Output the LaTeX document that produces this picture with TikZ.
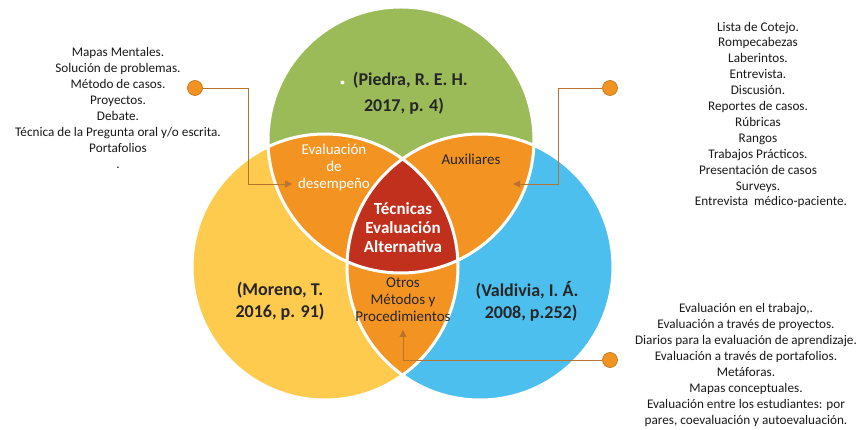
\documentclass[tikz,border=0pt]{standalone}
\usepackage{fontspec}
\setmainfont{Carlito}
\usetikzlibrary{arrows.meta}
\definecolor{verde}{HTML}{9BBB59}
\definecolor{amarillo}{HTML}{FECB4F}
\definecolor{azul}{HTML}{4CBFEE}
\definecolor{naranja}{HTML}{F39422}
\definecolor{rojo}{HTML}{C0301C}
\definecolor{texto}{HTML}{262626}
\definecolor{linea}{HTML}{B7732F}
\newcommand{\radio}{133pt}

\tikzset{
  lista/.style={align=center, text=black!90, font=\fontsize{13.2}{15.9}\selectfont},
  autor/.style={align=center, text=texto, font=\fontsize{18}{22}\selectfont\bfseries},
  zona/.style={align=center, font=\fontsize{15}{17}\selectfont},
  punto/.style={circle, fill=naranja, draw=naranja!75!black, line width=0.6pt, minimum size=15pt, inner sep=0pt},
  conector/.style={draw=linea, line width=0.8pt, -{Triangle[length=7pt,width=7pt]}},
}

\begin{document}
\begin{tikzpicture}[x=1pt,y=-1pt]
\useasboundingbox (0,0) rectangle (860,430);
\coordinate (cv) at (401,140);
\coordinate (ca) at (325,267);
\coordinate (cz) at (480,267);
\fill[amarillo] (ca) circle[radius=\radio];
\fill[azul] (cz) circle[radius=\radio];
\fill[verde] (cv) circle[radius=\radio];
\begin{scope}
  \clip (cv) circle[radius=\radio];
  \fill[naranja] (ca) circle[radius=\radio];
  \fill[naranja] (cz) circle[radius=\radio];
\end{scope}
\begin{scope}
  \clip (ca) circle[radius=\radio];
  \fill[naranja] (cz) circle[radius=\radio];
\end{scope}
\begin{scope}
  \clip (cv) circle[radius=\radio];
  \clip (ca) circle[radius=\radio];
  \fill[rojo] (cz) circle[radius=\radio];
\end{scope}
\draw[white, line width=3pt] (cv) circle[radius=\radio] (ca) circle[radius=\radio] (cz) circle[radius=\radio];

\node[autor, font=\fontsize{18}{26}\selectfont\bfseries] (piedra) at (404,93) {\textcolor{white}{\fontsize{9}{9}\selectfont•}\ \ (Piedra, R. E. H.\\2017, p. 4)};
\node[autor] (moreno) at (280,301) {(Moreno, T.\\2016, p. 91)};
\node[autor] (valdivia) at (527,301) {(Valdivia, I. Á.\\\ \ 2008, p.252)};

\node[zona, text=white] (desempeno) at (334,168) {Evaluación\\de\\desempeño};
\node[zona, text=texto] (auxiliares) at (471,159) {Auxiliares};
\node[zona, text=white, font=\fontsize{17}{19}\selectfont\bfseries] (tecnicas) at (403,228) {Técnicas\\Evaluación\\Alternativa};
\node[zona, text=texto] (otros) at (403,300) {Otros\\Métodos y\\Procedimientos};

\node[lista] (listaizq) at (118,108) {Mapas Mentales.\\Solución de problemas.\\Método de casos.\\Proyectos.\\Debate.\\Técnica de la Pregunta oral y/o escrita.\\Portafolios\\.};
\node[lista] (listader) at (758,115) {Lista de Cotejo.\\Rompecabezas\\Laberintos.\\Entrevista.\\Discusión.\\Reportes de casos.\\Rúbricas\\Rangos\\Trabajos Prácticos.\\Presentación de casos\\Surveys.\\\hspace*{26pt}Entrevista\ \ médico-paciente.};
\node[lista] (listaaba) at (746,365) {Evaluación en el trabajo,.\\Evaluación a través de proyectos.\\Diarios para la evaluación de aprendizaje.\\Evaluación a través de portafolios.\\Metáforas.\\Mapas conceptuales.\\Evaluación entre los estudiantes: por\\pares, coevaluación y autoevaluación.};

\node[punto] (pizq) at (195,88) {};
\node[punto] (pder) at (610,88) {};
\node[punto] (paba) at (610,360) {};
\coordinate (dizq) at (292,184);
\coordinate (dder) at (513,184);
\coordinate (daba) at (403,330);
\draw[conector] (pizq) -- ++(53,0) |- (dizq);
\draw[conector] (pder) -- ++(-52,0) |- (dder);
\draw[conector] (paba) -| (daba);
\end{tikzpicture}
\end{document}
